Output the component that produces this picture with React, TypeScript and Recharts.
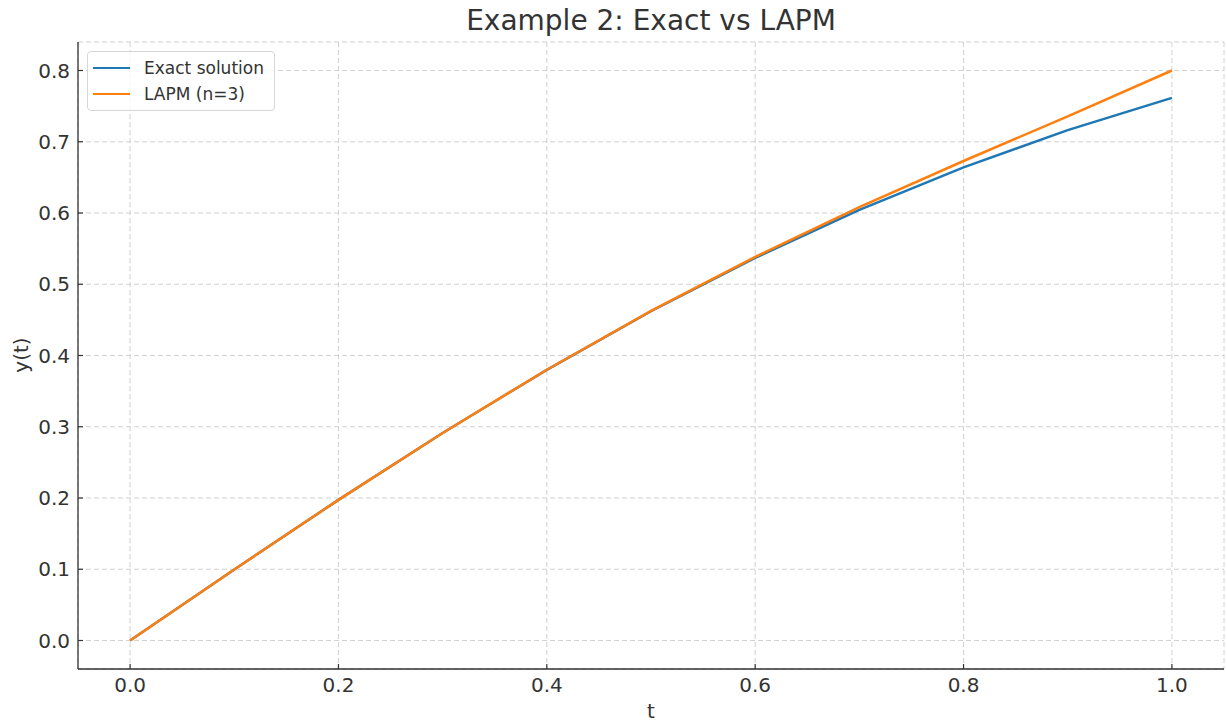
import React from 'react';
import { LineChart, Line, XAxis, YAxis, CartesianGrid } from 'recharts';

const times = [0, 0.1, 0.2, 0.3, 0.4, 0.5, 0.6, 0.7, 0.8, 0.9, 1.0];
const exactValues = [0, 0.0997, 0.1974, 0.2913, 0.3799, 0.4621, 0.537, 0.6044, 0.664, 0.7163, 0.7616];
const lapmValues = [0, 0.0997, 0.1974, 0.2913, 0.38, 0.4625, 0.5384, 0.6081, 0.673, 0.7357, 0.8];
const xTicks = [0, 0.2, 0.4, 0.6, 0.8, 1.0];
const yTicks = [0, 0.1, 0.2, 0.3, 0.4, 0.5, 0.6, 0.7, 0.8];

const data = times.map((t, i) => ({ t, exact: exactValues[i], lapm: lapmValues[i] }));

const FONT = '"DejaVu Sans", sans-serif';
const TEXT = '#333333';

const renderXTick = (props: any) => {
  const { x, y, payload } = props;
  return (
    <g key={`xt-${payload.value}`}>
      <line x1={x} x2={x} y1={y} y2={y - 5} stroke="#333" strokeWidth={1.2} />
      <text x={x} y={y + 23} textAnchor="middle" fontSize={20} fill={TEXT} fontFamily={FONT}>
        {Number(payload.value).toFixed(1)}
      </text>
    </g>
  );
};

const renderYTick = (props: any) => {
  const { x, y, payload } = props;
  return (
    <g key={`yt-${payload.value}`}>
      <line x1={x} x2={x + 5} y1={y} y2={y} stroke="#333" strokeWidth={1.2} />
      <text x={x - 8} y={y + 7} textAnchor="end" fontSize={20} fill={TEXT} fontFamily={FONT}>
        {Number(payload.value).toFixed(1)}
      </text>
    </g>
  );
};

const legendItems = [
  { label: 'Exact solution', color: '#1f77b4' },
  { label: 'LAPM (n=3)', color: '#ff7f0e' },
];

const LegendBox = () => (
  <div
    style={{
      position: 'absolute',
      left: 87,
      top: 51,
      border: '1px solid #d6d6d6',
      borderRadius: 4,
      background: 'rgba(255,255,255,0.8)',
      padding: '3px 10px 3px 5px',
      fontFamily: FONT,
      fontSize: 17,
      color: TEXT,
    }}
  >
    {legendItems.map(item => (
      <div key={item.label} style={{ display: 'flex', alignItems: 'center', height: 26 }}>
        <span style={{ display: 'inline-block', width: 37, height: 2.5, background: item.color, marginRight: 14 }} />
        <span>{item.label}</span>
      </div>
    ))}
  </div>
);

export default function App() {
  return (
    <div style={{ position: 'absolute', left: 0, top: 0, width: 1227, height: 722, background: '#fff', overflow: 'hidden' }}>
      <style>{'body { margin: 0; overflow: hidden; }'}</style>
      <LineChart width={1227} height={722} data={data} margin={{ top: 42, right: 3, bottom: 8, left: 8 }}>
        <CartesianGrid stroke="#cccccc" strokeDasharray="5 3" strokeWidth={0.9} />
        <XAxis
          dataKey="t"
          type="number"
          domain={[-0.05, 1.05]}
          ticks={xTicks}
          allowDataOverflow
          height={45}
          tickSize={0}
          tickMargin={0}
          tickLine={false}
          tick={renderXTick}
          stroke="#333"
          strokeWidth={1.3}
        />
        <YAxis
          type="number"
          domain={[-0.04, 0.84]}
          ticks={yTicks}
          allowDataOverflow
          width={70}
          tickSize={0}
          tickMargin={0}
          tickLine={false}
          tick={renderYTick}
          stroke="#333"
          strokeWidth={1.3}
        />
        <Line
          type="linear"
          dataKey="exact"
          stroke="#1f77b4"
          strokeWidth={2.5}
          dot={false}
          isAnimationActive={false}
        />
        <Line
          type="linear"
          dataKey="lapm"
          stroke="#ff7f0e"
          strokeWidth={2.5}
          dot={false}
          isAnimationActive={false}
        />
        <text x={651} y={30} textAnchor="middle" fontSize={28} fill={TEXT} fontFamily={FONT}>
          Example 2: Exact vs LAPM
        </text>
        <text x={651} y={718} textAnchor="middle" fontSize={20} fill={TEXT} fontFamily={FONT}>
          t
        </text>
        <text
          x={28}
          y={355}
          textAnchor="middle"
          fontSize={20}
          fill={TEXT}
          fontFamily={FONT}
          transform="rotate(-90 28 355)"
        >
          y(t)
        </text>
      </LineChart>
      <LegendBox />
    </div>
  );
}
